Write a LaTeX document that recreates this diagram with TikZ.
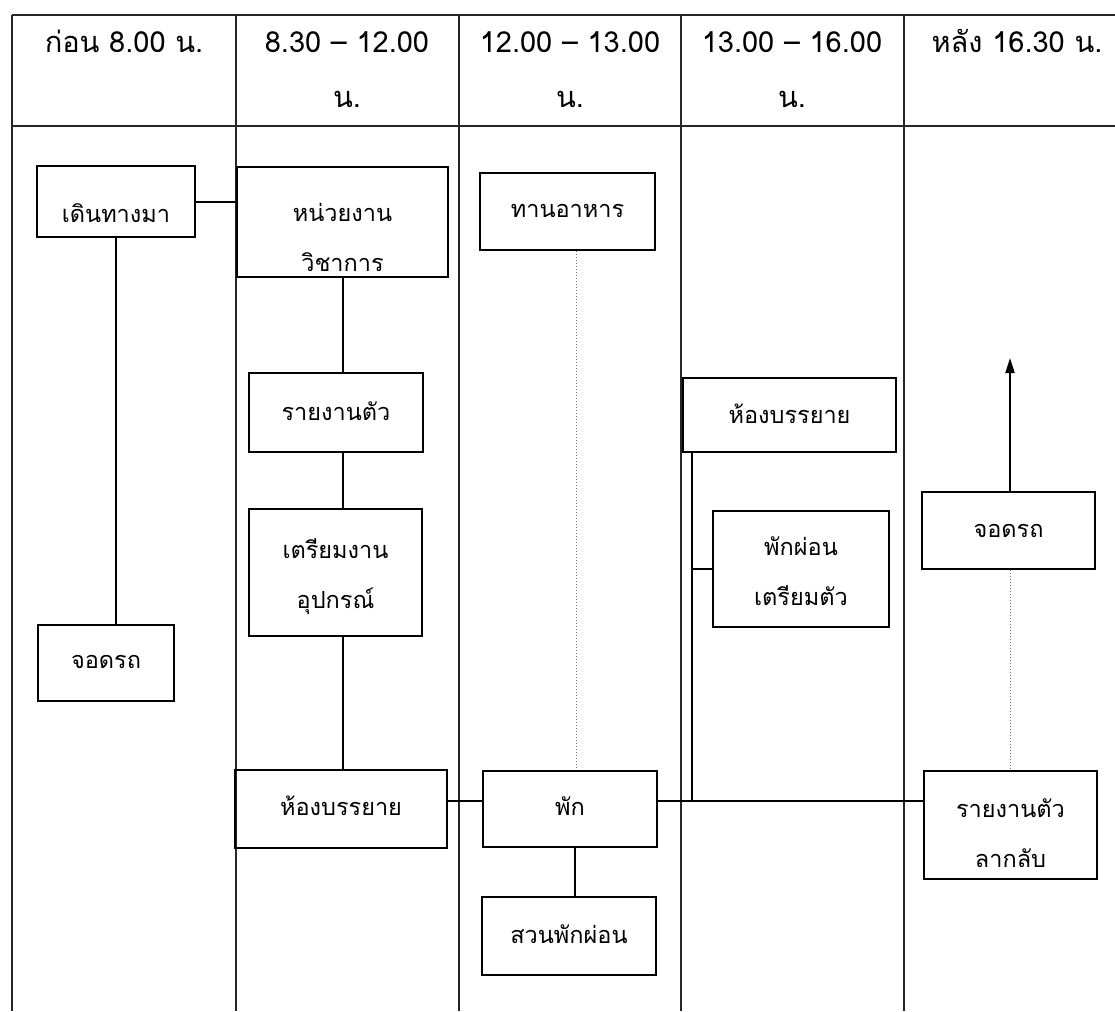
\documentclass[tikz,border=0pt]{standalone}
\usepackage{fontspec}
\newfontfamily\thaifont[Script=Thai]{Loma}
\usetikzlibrary{arrows.meta}
\begin{document}
\begin{tikzpicture}[x=1pt,y=-1pt,
  grid/.style={line width=1.1pt, black!85},
  box/.style n args={3}{draw, line width=2.6pt, rectangle, inner sep=0pt, anchor=base,
     align=center, text width=#1pt, text height=#2pt, text depth=#3pt,
     font=\thaifont\fontsize{23.5}{50}\selectfont},
  hdr/.style={inner sep=0pt, anchor=base, align=center, text width=210pt,
     font=\thaifont\fontsize{29}{55}\selectfont},
  link/.style={line width=2pt},
  dots/.style={line width=0.9pt, black!55, dash pattern=on 1pt off 2pt}]
\useasboundingbox (0,0) rectangle (1115,1011);
% table grid
\coordinate (tl) at (12,15);
\coordinate (hb) at (12,126);
\draw[grid] (tl) -- (1115,15);
\draw[grid] (hb) -- (1115,126);
\foreach \cx in {12,236,459,681,904} {\draw[grid] (\cx,15) -- (\cx,1011);}
% header
\node[hdr] (h1) at (124,53) {ก่อน 8.00 น.};
\node[hdr] (h2) at (347,53) {8.30 – 12.00\\น.};
\node[hdr] (h3) at (570,53) {12.00 – 13.00\\น.};
\node[hdr] (h4) at (792,53) {13.00 – 16.00\\น.};
\node[hdr] (h5) at (1017,53) {หลัง 16.30 น.};
% boxes
\node[box={158}{56}{15}] (b1) at (116,222) {เดินทางมา};
\node[box={211}{54}{56}] (b2) at (342.5,221) {หน่วยงาน\\วิชาการ};
\node[box={136}{43}{33}] (b3) at (106,668) {จอดรถ};
\node[box={174}{47}{32}] (b4) at (336,420) {รายงานตัว};
\node[box={173}{49}{78}] (b5) at (335.5,558) {เตรียมงาน\\อุปกรณ์};
\node[box={212}{45}{33}] (b6) at (341,815) {ห้องบรรยาย};
\node[box={175}{44}{33}] (b7) at (567.5,217) {ทานอาหาร};
\node[box={174}{44}{32}] (b8) at (570,815) {พัก};
\node[box={174}{46}{32}] (b9) at (569,943) {สวนพักผ่อน};
\node[box={213}{45}{29}] (b10) at (789.5,423) {ห้องบรรยาย};
\node[box={176}{44}{72}] (b11) at (801,555) {พักผ่อน\\เตรียมตัว};
\node[box={173}{45}{32}] (b12) at (1008.5,537) {จอดรถ};
\node[box={173}{46}{62}] (b13) at (1010.5,817) {รายงานตัว\\ลากลับ};
% helper coordinates
\coordinate (hy) at (0,801);
\coordinate (vx) at (575,0);
\coordinate (v4) at (692,0);
\coordinate (dx) at (576,0);
\coordinate (ax) at (1010,0);
\coordinate (atop) at (1010,358);
% connectors
\draw[link] (b1.east) -- (b1.east -| b2.west);
\draw[link] (b1.south) -- (b1.south |- b3.north);
\draw[link] (b2.south) -- (b2.south |- b4.north);
\draw[link] (b4.south -| b2.south) -- (b5.north -| b2.south);
\draw[link] (b5.south -| b2.south) -- (b6.north -| b2.south);
\draw[link] (b6.east |- hy) -- (b8.west |- hy);
\draw[link] (b8.south -| vx) -- (b9.north -| vx);
\draw[link] (b8.east |- hy) -- (b13.west |- hy);
\draw[link] (b10.south -| v4) -- (v4 |- hy);
\draw[link] (b11.west -| v4) -- (b11.west);
\draw[link, -{Triangle[length=15pt,width=9pt]}] (b12.north -| ax) -- (atop);
\draw[dots] (b12.south -| ax) -- (b13.north -| ax);
\draw[dots] (b7.south -| dx) -- (b8.north -| dx);
\end{tikzpicture}
\end{document}
